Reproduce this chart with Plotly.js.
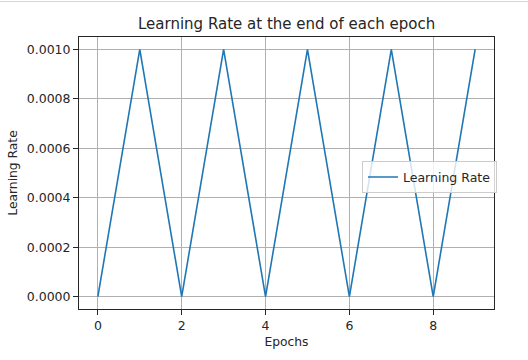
<!DOCTYPE html>
<html>
<head>
<meta charset="utf-8">
<script src="https://cdn.plot.ly/plotly-3.0.1.min.js"></script>
<style>
html,body{margin:0;padding:0;background:#fff;}
#topline{position:absolute;left:0;top:1px;width:528px;height:1px;background:#d6d6d6;}
#chart{width:528px;height:360px;}
</style>
</head>
<body>
<div id="topline"></div>
<div id="chart"></div>
<script>
const epochs = [0, 1, 2, 3, 4, 5, 6, 7, 8, 9];
const learningRate = [0.0, 0.001, 0.0, 0.001, 0.0, 0.001, 0.0, 0.001, 0.0, 0.001];
const xTickVals = [0, 2, 4, 6, 8];
const yTickVals = [0.0, 0.0002, 0.0004, 0.0006, 0.0008, 0.001];

const fam = 'DejaVu Sans, sans-serif';
const tickFont = {family: fam, size: 12.5, color: '#262626'};
const labelFont = {family: fam, size: 12.3, color: '#262626'};

const trace = {
  x: epochs,
  y: learningRate,
  type: 'scatter',
  mode: 'lines',
  name: 'Learning Rate',
  line: {color: '#1f77b4', width: 1.6}
};

const axisCommon = {
  showline: true,
  mirror: true,
  linecolor: '#262626',
  linewidth: 1,
  ticks: 'outside',
  ticklen: 5,
  tickwidth: 1,
  tickcolor: '#262626',
  showgrid: true,
  gridcolor: '#b0b0b0',
  gridwidth: 1,
  zeroline: false,
  tickfont: tickFont
};

const layout = {
  width: 528,
  height: 360,
  margin: {l: 79, r: 34, t: 37, b: 51, pad: 0},
  paper_bgcolor: 'rgba(0,0,0,0)',
  plot_bgcolor: '#ffffff',
  title: {
    text: 'Learning Rate at the end of each epoch',
    font: {family: fam, size: 15, color: '#262626'},
    x: 0.5428, xanchor: 'center',
    y: 1 - 24/360, yanchor: 'middle', yref: 'container'
  },
  xaxis: Object.assign({}, axisCommon, {
    range: [-0.45, 9.45],
    tickvals: xTickVals,
    ticktext: xTickVals.map(String),
    title: {text: 'Epochs', font: labelFont, standoff: 5}
  }),
  yaxis: Object.assign({}, axisCommon, {
    range: [-0.00005, 0.00105],
    tickvals: yTickVals,
    tickformat: '.4f',
    title: {text: 'Learning Rate', font: labelFont, standoff: 6}
  }),
  showlegend: true,
  legend: {
    x: 0.682, xanchor: 'left',
    y: 0.543, yanchor: 'top',
    bgcolor: 'rgba(255,255,255,0.8)',
    bordercolor: '#cccccc',
    borderwidth: 1,
    font: tickFont,
    itemwidth: 30,
    tracegroupgap: 0
  }
};

Plotly.newPlot('chart', [trace], layout, {displayModeBar: false, staticPlot: true});
</script>
</body>
</html>
